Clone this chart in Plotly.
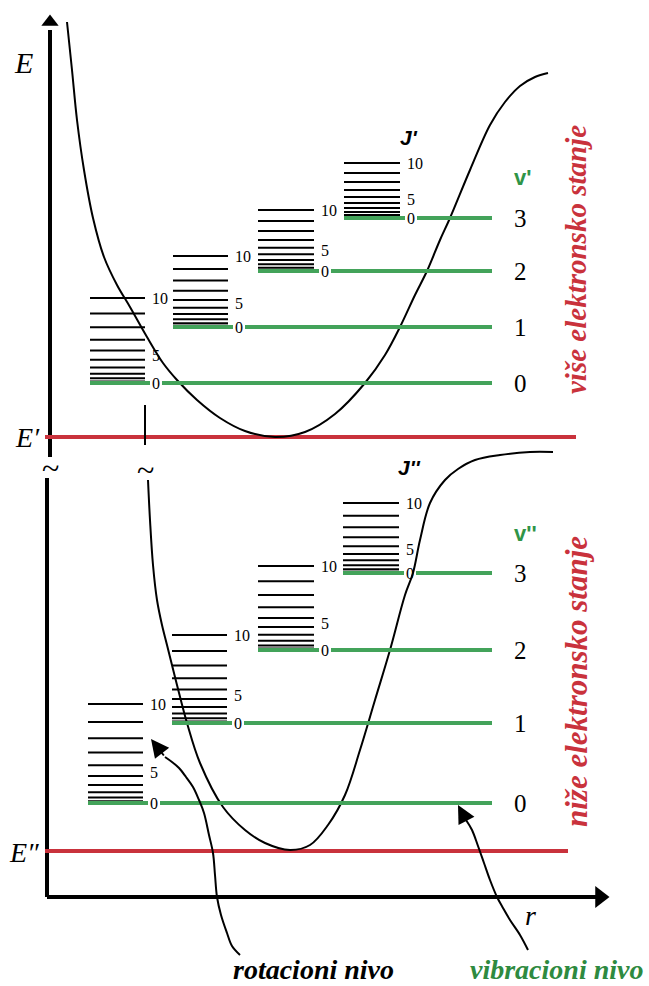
import plotly.graph_objects as go

# ---------------- data (diagram units: x = r, y = image rows, increasing downward) ----------------
# upper electronic state potential curve
upper_curve_r = [67, 72, 77, 84, 93, 104, 117, 130, 147, 163, 177, 197, 220, 245, 275, 305, 335, 365, 385, 400, 415, 427, 440, 450, 470, 490, 505, 520, 535, 548]
upper_curve_E = [22, 70, 120, 170, 218, 257, 285, 307, 337, 363, 380, 400, 418, 431, 437, 432, 414, 383, 355, 327, 295, 271, 240, 218, 170, 125, 102, 86, 77, 73]
# lower electronic state potential curve
lower_curve_r = [148, 150, 153, 157, 162, 167, 177, 187, 200, 223, 245, 265, 290, 310, 328, 345, 360, 375, 390, 405, 413, 420, 430, 445, 458, 475, 500, 530, 553]
lower_curve_E = [480, 520, 565, 600, 625, 645, 685, 723, 763, 807, 830, 843, 850, 845, 825, 795, 750, 700, 650, 595, 573, 540, 503, 480, 469, 460, 455, 452, 452]
# short piece of lower curve seen above the break
lower_stub_r = [145, 145]
lower_stub_E = [405, 445]

# electronic minima
E_upper_min = 437
E_lower_min = 851

# vibrational levels v = 0..3
v_labels = ["0", "1", "2", "3"]
vib_upper = [383, 327, 271, 218]
vib_lower = [803, 723, 650, 573]
# rotational stacks: left/right extent and J=10 height
rot_left_upper = [90, 173, 258, 344]
rot_right_upper = [145, 228, 314, 400]
rot_height_upper = [85, 71, 61, 55]
rot_left_lower = [88, 172, 258, 343]
rot_right_lower = [143, 227, 314, 399]
rot_height_lower = [99, 88, 84, 70]
# rotational term values J(J+1) for J = 0..10
J_values = [0, 1, 2, 3, 4, 5, 6, 7, 8, 9, 10]
J_terms = [0, 2, 6, 12, 20, 30, 42, 56, 72, 90, 110]
J_labeled = ["0", "5", "10"]

# hand-drawn pointer arrows
rot_arrow_r = [240, 232, 227, 221, 217, 215, 213, 209, 204, 199, 193, 186, 179, 172, 165]
rot_arrow_E = [955, 946, 933, 915, 897, 875, 853, 835, 813, 800, 787, 777, 768, 762, 757]
vib_arrow_r = [528, 520, 510, 503, 497, 490, 484, 478, 472, 466]
vib_arrow_E = [950, 935, 920, 908, 897, 880, 863, 846, 830, 820]

GREEN = "#43a35a"
GREEN_TXT = "#2f9447"
RED = "#c9323c"
SERIF = "Liberation Serif"
SANS = "Liberation Sans"

fig = go.Figure()

def line(x, y, color="black", width=2, shape="linear"):
    fig.add_trace(go.Scatter(x=x, y=y, mode="lines", line=dict(color=color, width=width, shape=shape),
                             hoverinfo="skip", showlegend=False))

# axes
line([50, 50], [30, 457], width=4)
line([47, 47], [478, 897], width=4)
line([47, 598], [897, 897], width=4)
fig.add_trace(go.Scatter(x=[50], y=[22], mode="markers",
                         marker=dict(symbol="triangle-up", size=15, color="black"),
                         hoverinfo="skip", showlegend=False))
fig.add_trace(go.Scatter(x=[600], y=[897], mode="markers",
                         marker=dict(symbol="triangle-right", size=19, color="black"),
                         hoverinfo="skip", showlegend=False))

# electronic minima lines
line([45, 576], [E_upper_min, E_upper_min], color=RED, width=4)
line([45, 568], [E_lower_min, E_lower_min], color=RED, width=4)

# curves
line(upper_curve_r, upper_curve_E, width=2, shape="spline")
line(lower_curve_r, lower_curve_E, width=2, shape="spline")
line(lower_stub_r, lower_stub_E, width=2)

annotations = []

def ann(x, y, text, size, color="black", family=SERIF, xanchor="center", yanchor="middle", angle=0):
    annotations.append(dict(x=x, y=y, xref="x", yref="y", text=text, showarrow=False,
                            font=dict(size=size, color=color, family=family),
                            xanchor=xanchor, yanchor=yanchor, textangle=angle))

def stacks(lefts, rights, heights, bases):
    for lft, rgt, h, base in zip(lefts, rights, heights, bases):
        xs, ys = [], []
        for J, t in zip(J_values[1:], J_terms[1:]):
            y = base - h * t / J_terms[-1]
            xs += [lft, rgt, None]
            ys += [y, y, None]
        line(xs, ys, width=2)
        line([lft, rgt + 5], [base, base], color=GREEN, width=4)
        line([rgt + 17, 492], [base, base], color=GREEN, width=4)
        for lab in J_labeled:
            J = int(lab)
            y = base - h * J_terms[J] / J_terms[-1]
            if J == 5:
                y -= 4
            ann(rgt + 5, y, lab, 16, xanchor="left")

stacks(rot_left_upper, rot_right_upper, rot_height_upper, vib_upper)
stacks(rot_left_lower, rot_right_lower, rot_height_lower, vib_lower)

for lab, yu, yl in zip(v_labels, vib_upper, vib_lower):
    ann(520, yu, lab, 25)
    ann(520, yl, lab, 25)

# hand-drawn arrows
line(rot_arrow_r, rot_arrow_E, width=2, shape="spline")
line(vib_arrow_r, vib_arrow_E, width=2, shape="spline")
annotations.append(dict(x=151, y=739, ax=rot_arrow_r[-1], ay=rot_arrow_E[-1], xref="x", yref="y",
                        axref="x", ayref="y", text="", showarrow=True, arrowhead=2,
                        arrowsize=1.8, arrowwidth=2, arrowcolor="black"))
annotations.append(dict(x=458, y=805, ax=vib_arrow_r[-1], ay=vib_arrow_E[-1], xref="x", yref="y",
                        axref="x", ayref="y", text="", showarrow=True, arrowhead=2,
                        arrowsize=1.8, arrowwidth=2, arrowcolor="black"))

# text labels
ann(23, 62, "<i>E</i>", 30)
ann(27, 437, "<i>E′</i>", 28)
ann(24, 852, "<i>E″</i>", 28)
ann(530, 915, "<i>r</i>", 28)
ann(50, 468, "~", 32)
ann(145, 470, "~", 32)
ann(409, 137, "<b><i>J'</i></b>", 21, family=SANS)
ann(409, 467, "<b><i>J''</i></b>", 21, family=SANS)
ann(522, 177, "<b>v'</b>", 22, color=GREEN_TXT, family=SANS)
ann(525, 533, "<b>v''</b>", 22, color=GREEN_TXT, family=SANS)
ann(576, 260, "<b><i>više elektronsko stanje</i></b>", 29, color=RED, angle=-90)
ann(576, 682, "<b><i>niže elektronsko stanje</i></b>", 31, color=RED, angle=-90)
ann(313, 969, "<b><i>rotacioni nivo</i></b>", 28)
ann(556, 969, "<b><i>vibracioni nivo</i></b>", 28, color="#2e8a40")

fig.update_layout(
    width=649, height=986,
    margin=dict(l=0, r=0, t=0, b=0),
    paper_bgcolor="white", plot_bgcolor="white",
    showlegend=False,
    annotations=annotations,
    xaxis=dict(range=[0, 649], visible=False, fixedrange=True),
    yaxis=dict(range=[986, 0], visible=False, fixedrange=True),
)

fig.write_html("out.html")
